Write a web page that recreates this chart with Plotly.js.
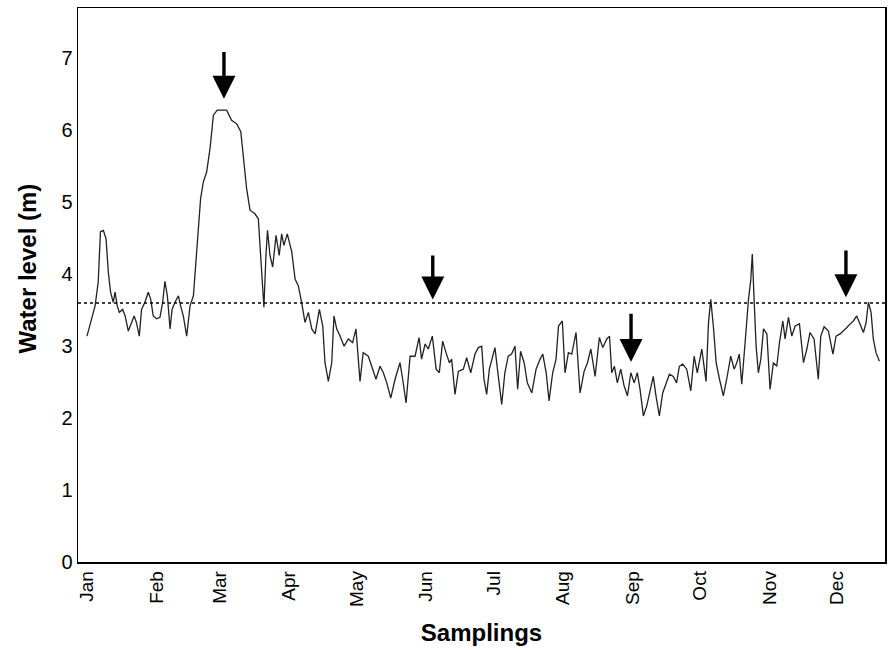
<!DOCTYPE html>
<html>
<head>
<meta charset="utf-8">
<script src="https://cdn.plot.ly/plotly-3.0.1.min.js"></script>
<style>html,body{margin:0;padding:0;background:#fff;}#chart{width:889px;height:650px;}</style>
</head>
<body>
<div id="chart"></div>
<script>
// Day of year (0 = 1 Jan)
var days = [0,2,3.6,5,6,7.3,8.5,9.5,10.5,11.7,12.5,13.5,14.4,15.9,17,18.4,19.9,21,22,23.3,24.3,25.8,27.3,28.4,29.5,31,32.5,33.7,34.7,35.8,37,37.9,39.2,40.7,41.7,42.9,44.4,45.9,47.4,48.6,49.6,50.6,51.8,53.3,54.8,56.3,58,60,62.2,64.4,66.7,68.5,69.6,71.1,72.6,74.8,76.3,77.8,78.8,79.7,80.4,81.5,82.7,84.2,85.6,
86.7,87.7,89.2,91.2,92.7,94.1,95.6,97.1,98.6,100.1,101.6,103.5,105,106,107.5,109,110,111.2,112.7,114.5,116.4,118.3,119.8,121.6,123,125.3,126.8,128.7,130.5,132,133.5,135.3,137.2,139.4,140.6,142.1,143.9,146.1,147.9,149,150.6,152,153.8,155.5,156.9,158.4,159.9,161.4,162.4,163.9,165.4,167.6,169.1,170.9,172.8,174.3,
175.8,176.8,178,179.2,180.7,181.7,182.8,184.7,186.1,187.6,189.1,190.6,191.8,193.1,194.7,196.1,198.1,200,201.8,203,204.5,205.8,207.4,208.9,210,211.7,212.9,214.4,215.9,217.8,219.6,221.4,222.9,224.4,226.3,228.2,229.7,231.5,232.7,233.7,234.9,236.2,237.7,239.2,240.7,242.2,243.7,245.1,246.3,247.8,249.3,250.8,252.2,253.4,254.9,256.4,258.2,259.4,261.1,262.6,263.8,
265.3,267.1,268.9,270.4,271.8,273.8,275.7,276.8,277.8,279,280.2,281.7,283.4,284.9,286.7,288.2,289.4,290.5,291.6,293.1,294.6,295.6,296.3,297.1,298,299,300.1,301.3,302.8,304.2,305.7,307.2,308.4,309.9,310.9,312.4,313.9,315.4,317.3,319.1,320.6,322,323.8,325.7,326.8,328.3,330.2,332.2,333.6,335.4,336.9,338.4,339.9,341.3,342.8,344.3,345.8,347,348,349.2,350.2,351.4,352.9];

// Water level (m)
var levels = [3.14,3.37,3.56,3.89,4.59,4.61,4.49,4.03,3.75,3.61,3.75,3.56,3.47,3.51,3.42,3.21,3.33,3.42,3.33,3.14,3.51,3.61,3.75,3.65,3.42,3.38,3.40,3.61,3.90,3.70,3.24,3.51,3.61,3.70,3.56,3.42,3.14,3.56,3.70,4.17,4.54,5.05,5.28,5.42,5.75,6.21,6.28,6.28,6.28,6.14,6.09,5.98,5.65,5.19,4.89,4.84,4.77,3.98,3.54,4.26,4.61,4.26,4.10,4.54,4.26,
4.56,4.40,4.56,4.31,3.93,3.84,3.61,3.33,3.47,3.24,3.17,3.51,3.28,2.77,2.51,2.77,3.42,3.24,3.14,3.00,3.10,3.05,3.24,2.51,2.91,2.86,2.72,2.54,2.72,2.63,2.49,2.28,2.54,2.77,2.54,2.21,2.86,2.86,3.12,2.82,3.03,2.96,3.14,2.68,2.63,3.07,2.91,2.77,2.82,2.33,2.65,2.68,2.84,2.63,2.89,2.98,
3.00,2.54,2.33,2.68,2.86,2.98,2.68,2.19,2.63,2.86,2.89,3.00,2.40,2.93,2.77,2.49,2.35,2.68,2.82,2.89,2.63,2.24,2.63,2.82,3.28,3.35,2.63,2.91,2.89,3.19,2.35,2.65,2.77,2.96,2.58,3.12,2.98,3.10,3.14,2.63,2.72,2.49,2.68,2.45,2.31,2.63,2.49,2.63,2.40,2.03,2.17,2.38,2.58,2.31,2.03,2.35,2.51,2.61,2.58,2.49,2.72,
2.75,2.68,2.38,2.86,2.63,2.96,2.51,3.33,3.65,3.26,2.77,2.54,2.31,2.54,2.86,2.68,2.77,2.89,2.47,3.05,3.65,3.91,4.28,3.65,3.00,2.63,2.82,3.24,3.17,2.40,2.77,2.72,3.05,3.35,3.10,3.40,3.14,3.28,3.31,2.77,2.96,3.19,3.10,2.54,3.14,3.27,3.21,2.89,3.14,3.17,3.21,3.26,3.31,3.35,3.42,3.31,3.19,3.33,3.61,3.47,3.10,2.91,2.79];

// Month tick positions (day of year) and labels
var monthDays = [0,31,59,90,120,151,181,212,243,273,304,334];
var monthLabels = ['Jan','Feb','Mar','Apr','May','Jun','Jul','Aug','Sep','Oct','Nov','Dec'];

// Reference level (dotted line)
var refLevel = 3.6;

// Sampling arrows: day, tip level, tail level
var arrowDays = [61, 154, 242.3, 338];
var arrowTips = [6.44, 3.65, 2.78, 3.68];
var arrowTails = [7.11, 4.28, 3.47, 4.35];

var annotations = arrowDays.map(function(d, i){
  return {x: d, y: arrowTips[i], ax: d, ay: arrowTails[i], xref:'x', yref:'y', axref:'x', ayref:'y',
    text:'', showarrow:true, arrowhead:2, arrowsize:1.35, arrowwidth:3.4, arrowcolor:'#000'};
});

// y-axis title, placed as in the reference
annotations.push({text:'<b>Water level (m)</b>', textangle:-90, xref:'paper', yref:'paper',
  x:-0.063, y:0.53, xanchor:'center', yanchor:'middle', showarrow:false,
  font:{size:24, family:'"Liberation Sans", Arial, sans-serif', color:'#000'}});

var trace = {x: days, y: levels, type:'scatter', mode:'lines',
  line:{color:'#222', width:1.3}, hoverinfo:'skip'};

var sans = '"Liberation Sans", Arial, sans-serif';

var layout = {
  width: 889, height: 650,
  margin: {l:78, r:4, t:8, b:88},
  paper_bgcolor:'#fff', plot_bgcolor:'#fff',
  font: {family: sans, color:'#000'},
  showlegend:false,
  xaxis: {range:[-4, 355.4], tickmode:'array', tickvals: monthDays, ticktext: monthLabels,
    tickangle:-90, ticks:'', showgrid:false, zeroline:false,
    showline:true, mirror:true, linecolor:'#000', linewidth:1.5,
    tickfont:{size:19}, title:{text:'Samplings', font:{size:24, weight:'bold'}, standoff:18}},
  yaxis: {range:[0, 7.7], tickvals:[0,1,2,3,4,5,6,7], ticks:'', showgrid:false, zeroline:false,
    showline:true, mirror:true, linecolor:'#000', linewidth:1.5,
    tickfont:{size:20}},
  shapes: [{type:'line', xref:'paper', x0:0, x1:1, yref:'y', y0:refLevel, y1:refLevel,
    line:{color:'#000', width:1.5, dash:'dot'}}],
  annotations: annotations
};

Plotly.newPlot('chart', [trace], layout, {staticPlot:true, displayModeBar:false});
</script>
</body>
</html>
